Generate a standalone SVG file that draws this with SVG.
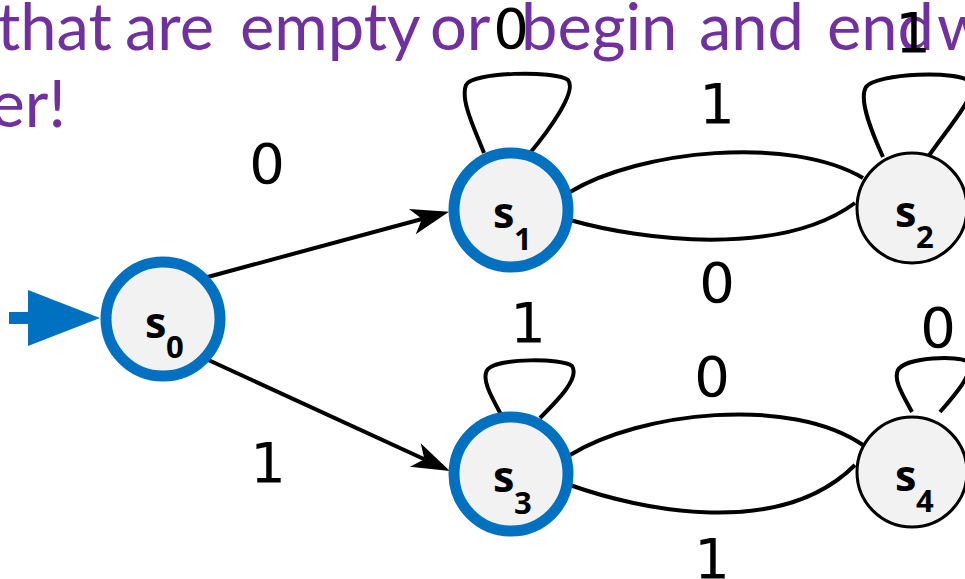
<svg xmlns="http://www.w3.org/2000/svg" width="965" height="579" viewBox="0 0 965 579">
<style>
.title{font-family:Lato,"Open Sans",sans-serif;font-size:65px;fill:#7030A0}
.lbl{font-family:"DejaVu Sans",sans-serif;font-size:56px;fill:#000;text-anchor:middle}
.st{fill:#f2f2f2}
.acc{stroke:#0070C0;stroke-width:11}
.norm{stroke:#000;stroke-width:3}
.nm{font-family:"Open Sans",sans-serif;font-weight:bold;font-size:43px;fill:#000}
.sub{font-size:31px}
.edge{fill:none;stroke:#000;stroke-width:4}
</style>
<defs>
<marker id="ah" markerUnits="userSpaceOnUse" markerWidth="40" markerHeight="30" refX="10" refY="13" orient="auto" overflow="visible">
<path d="M0,0 L38,13 L0,26 L10,13 Z" fill="#000"/>
</marker>
</defs>
<text class="title" y="50"><tspan x="-3">that</tspan><tspan x="125">are</tspan><tspan x="240">empty</tspan><tspan x="430">or</tspan><tspan x="521">begin</tspan><tspan x="699">and</tspan><tspan x="827">end</tspan><tspan x="937">w</tspan></text>
<text class="title" x="66" y="127" text-anchor="end">er!</text>
<g id="connectors">
<line class="edge" x1="204" y1="278" x2="422" y2="219" marker-end="url(#ah)"/>
<line class="edge" x1="204" y1="358" x2="424.4" y2="459.2" marker-end="url(#ah)"/>
<path class="edge" d="M484,153 C475,130 460,100 466,85 C472,72 555,70 568,80 C578,92 545,135 530,153"/>
<path class="edge" d="M883,157 C873,135 858,100 866,87 C876,73 960,70 970,82 C978,95 950,125 928,157"/>
<path class="edge" d="M503,418 C492,398 480,378 488,369 C498,358 562,358 572,366 C580,378 558,400 540,418"/>
<path class="edge" d="M912,412 C903,395 893,380 898,370 C905,357 960,355 968,362 C975,372 955,395 940,412"/>
<path class="edge" d="M570,192 C640,150 790,135 863,178"/>
<path class="edge" d="M570,220 C640,240 780,258 855,203"/>
<path class="edge" d="M570,455 C640,412 790,395 863,445"/>
<path class="edge" d="M570,485 C640,510 780,540 855,465"/>
<rect x="9" y="312" width="20" height="12" fill="#0070C0"/>
<path d="M28,290 L100,318 L28,346 Z" fill="#0070C0"/>
</g>
<g id="labels">
<text class="lbl" x="267" y="183">0</text>
<text class="lbl" x="268" y="482">1</text>
<text class="lbl" x="511" y="48">0</text>
<text class="lbl" x="913" y="52">1</text>
<text class="lbl" x="717" y="123">1</text>
<text class="lbl" x="717" y="302">0</text>
<text class="lbl" x="528" y="342">1</text>
<text class="lbl" x="712" y="396">0</text>
<text class="lbl" x="938" y="347">0</text>
<text class="lbl" x="712" y="578">1</text>
</g>
<g id="s0">
<circle class="st acc" cx="163" cy="319" r="57"/>
<text class="nm" x="145" y="338">s<tspan class="sub" x="166" y="358">0</tspan></text>
</g>
<g id="s1">
<circle class="st acc" cx="511" cy="210" r="57"/>
<text class="nm" x="493" y="228">s<tspan class="sub" x="514" y="250">1</tspan></text>
</g>
<g id="s2">
<circle class="st norm" cx="912" cy="208" r="55"/>
<text class="nm" x="895" y="227">s<tspan class="sub" x="916" y="248">2</tspan></text>
</g>
<g id="s3">
<circle class="st acc" cx="511" cy="474" r="57"/>
<text class="nm" x="493" y="492">s<tspan class="sub" x="514" y="514">3</tspan></text>
</g>
<g id="s4">
<circle class="st norm" cx="912" cy="472" r="55"/>
<text class="nm" x="895" y="491">s<tspan class="sub" x="916" y="512">4</tspan></text>
</g>
</svg>
